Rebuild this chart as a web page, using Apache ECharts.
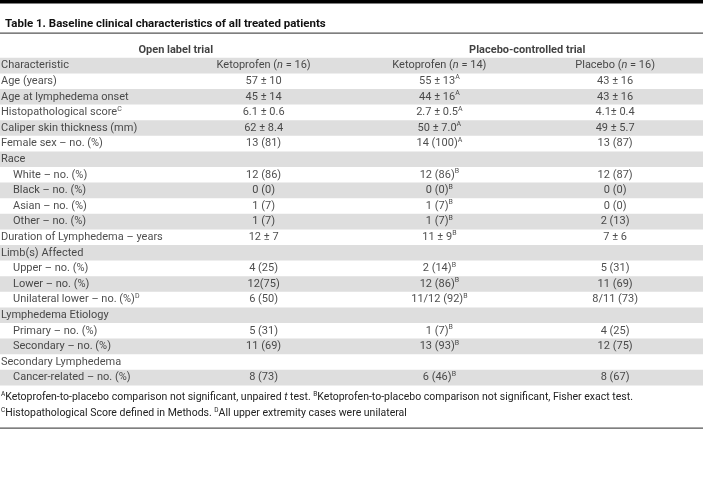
<!DOCTYPE html>
<html>
<head>
<meta charset="utf-8">
<script src="https://cdn.jsdelivr.net/npm/echarts@6/dist/echarts.min.js"></script>
<style>
  html, body { margin: 0; padding: 0; background: #fff; }
  #chart { width: 703px; height: 488px; }
</style>
</head>
<body>
<div id="chart"></div>
<script>
// ---------- DATA ----------
const tableTitle = 'Table 1. Baseline clinical characteristics of all treated patients';
const groups = ['Open label trial', 'Placebo-controlled trial'];
const columns = ['Characteristic', 'Ketoprofen (_n_ = 16)', 'Ketoprofen (_n_ = 14)', 'Placebo (_n_ = 16)'];
const characteristics = [
  'Age (years)', 'Age at lymphedema onset', 'Histopathological score^C', 'Caliper skin thickness (mm)',
  'Female sex – no. (%)', 'Race', 'White – no. (%)', 'Black – no. (%)', 'Asian – no. (%)', 'Other – no. (%)',
  'Duration of Lymphedema – years', 'Limb(s) Affected', 'Upper – no. (%)', 'Lower – no. (%)',
  'Unilateral lower – no. (%)^D', 'Lymphedema Etiology', 'Primary – no. (%)', 'Secondary – no. (%)',
  'Secondary Lymphedema', 'Cancer-related – no. (%)'
];
const isSubItem = [false, false, false, false, false, false, true, true, true, true,
  false, false, true, true, true, false, true, true, false, true];
const openLabelKetoprofen = ['57 ± 10', '45 ± 14', '6.1 ± 0.6', '62 ± 8.4', '13 (81)', '', '12 (86)', '0 (0)',
  '1 (7)', '1 (7)', '12 ± 7', '', '4 (25)', '12(75)', '6 (50)', '', '5 (31)', '11 (69)', '', '8 (73)'];
const placeboTrialKetoprofen = ['55 ± 13^A', '44 ± 16^A', '2.7 ± 0.5^A', '50 ± 7.0^A', '14 (100)^A', '',
  '12 (86)^B', '0 (0)^B', '1 (7)^B', '1 (7)^B', '11 ± 9^B', '', '2 (14)^B', '12 (86)^B', '11/12 (92)^B', '',
  '1 (7)^B', '13 (93)^B', '', '6 (46)^B'];
const placeboTrialPlacebo = ['43 ± 16', '43 ± 16', '4.1± 0.4', '49 ± 5.7', '13 (87)', '', '12 (87)', '0 (0)',
  '0 (0)', '2 (13)', '7 ± 6', '', '5 (31)', '11 (69)', '8/11 (73)', '', '4 (25)', '12 (75)', '', '8 (67)'];
const footnotes = [
  '^AKetoprofen-to-placebo comparison not significant, unpaired _t_ test. ^BKetoprofen-to-placebo comparison not significant, Fisher exact test.',
  '^CHistopathological Score defined in Methods. ^DAll upper extremity cases were unilateral'
];

// ---------- BUILD ----------
const FONT = 'Roboto, sans-serif';
const FS = 11;
const INK = '#222';
function rich(s) {
  return s.replace(/\^([A-D])/g, '{sup|$1}').replace(/_([a-z])_/g, '{i|$1}');
}
const richStyles = {
  sup: { fontSize: 7, lineHeight: 8, verticalAlign: 'top', fontFamily: FONT, color: INK },
  i: { fontStyle: 'italic', fontSize: FS, fontFamily: FONT, color: INK }
};

// row indices: 0 = group header, 1 = column header, 2.. = characteristics
const rowNames = ['', columns[0]].concat(characteristics);
const valueCols = [openLabelKetoprofen, placeboTrialKetoprofen, placeboTrialPlacebo];

const leftData = [];
const centerData = [];
leftData.push({ value: [0, 1], text: columns[0], label: { offset: [1, 0] } });
for (let c = 1; c < 4; c++) centerData.push({ value: [c + 0.5, 1], text: columns[c] });
characteristics.forEach((name, k) => {
  leftData.push({ value: [0, k + 2], text: name, label: { offset: [isSubItem[k] ? 13 : 1, 0] } });
  valueCols.forEach((col, c) => {
    if (col[k] !== '') centerData.push({ value: [c + 1.5, k + 2], text: col[k] });
  });
});
const groupData = groups.map((g, k) => ({ value: [k * 2 + 1, 0], text: g }));

const chart = echarts.init(document.getElementById('chart'), null, { renderer: 'canvas' });
const ROW = 15.6;
const TOP = 42.2;
chart.setOption({
  animation: false,
  textStyle: { fontFamily: FONT },
  title: {
    text: tableTitle, left: 0, top: 13,
    textStyle: { fontFamily: FONT, fontWeight: 'bold', fontSize: 11.5, color: '#111' }
  },
  grid: { left: 0, right: 0, top: TOP, height: ROW * rowNames.length, containLabel: false },
  xAxis: { type: 'value', min: 0, max: 4, show: false },
  yAxis: {
    type: 'category', data: rowNames, inverse: true,
    axisLine: { show: false }, axisTick: { show: false }, axisLabel: { show: false },
    splitLine: { show: false },
    splitArea: { show: true, areaStyle: { color: ['rgba(0,0,0,0)', '#dedede'] } }
  },
  series: [
    {
      type: 'scatter', symbolSize: 0, data: leftData,
      label: {
        show: true, position: 'inside', align: 'left', verticalAlign: 'middle',
        fontSize: FS, lineHeight: 14, color: INK, fontFamily: FONT, rich: richStyles,
        formatter: p => rich(p.data.text)
      }
    },
    {
      type: 'scatter', symbolSize: 0, data: centerData,
      label: {
        show: true, position: 'inside', align: 'center', verticalAlign: 'middle',
        fontSize: FS, lineHeight: 14, color: INK, fontFamily: FONT, rich: richStyles,
        formatter: p => rich(p.data.text)
      }
    },
    {
      type: 'scatter', symbolSize: 0, data: groupData,
      label: {
        show: true, position: 'inside', align: 'center', verticalAlign: 'middle',
        fontSize: 11, fontWeight: 'bold', color: '#111', fontFamily: FONT,
        formatter: p => p.data.text
      }
    }
  ],
  graphic: [
    { type: 'rect', shape: { x: 0, y: 0, width: 703, height: 3.5 }, style: { fill: '#000' } },
    { type: 'rect', shape: { x: 0, y: 32.5, width: 703, height: 1.3 }, style: { fill: '#555' } },
    { type: 'rect', shape: { x: 0, y: 427.5, width: 703, height: 1.3 }, style: { fill: '#555' } }
  ].concat(footnotes.map((t, k) => ({
    type: 'text', left: 1, top: 391 + k * 15.5,
    style: {
      text: rich(t), fontSize: 10.5, lineHeight: 13, fill: INK, fontFamily: FONT,
      rich: {
        sup: { fontSize: 6.5, lineHeight: 8, verticalAlign: 'top', fontFamily: FONT, fill: INK },
        i: { fontStyle: 'italic', fontSize: 10.5, fontFamily: FONT, fill: INK }
      }
    }
  })))
});
</script>
</body>
</html>
